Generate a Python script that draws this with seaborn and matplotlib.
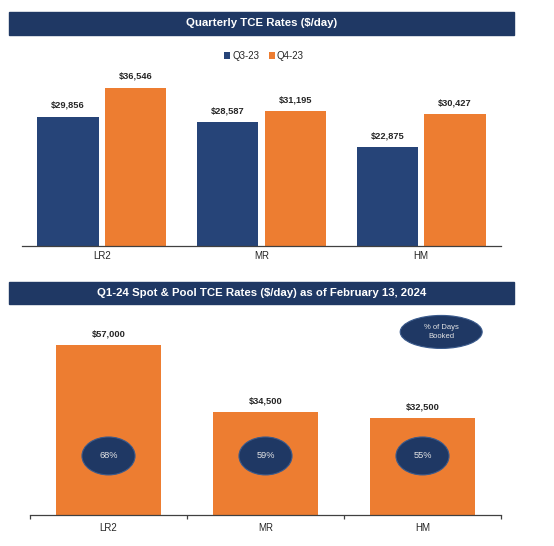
import pandas as pd
import numpy as np
import matplotlib.pyplot as plt
import seaborn as sns
from matplotlib.patches import Rectangle, Ellipse
from matplotlib.transforms import blended_transform_factory

# Données
vessels = ['LR2', 'MR', 'HM']
quarters = ['Q3-23', 'Q4-23']
q3_23 = [29856, 28587, 22875]
q4_23 = [36546, 31195, 30427]
q1_24 = [57000, 34500, 32500]
days_booked = ['68%', '59%', '55%']

navy = '#264478'
header = '#1F3864'
orange = '#ED7D31'

df_q = pd.DataFrame({
    'Vessel': vessels * 2,
    'Quarter': [quarters[0]] * 3 + [quarters[1]] * 3,
    'TCE': q3_23 + q4_23,
})
df_s = pd.DataFrame({'Vessel': vessels, 'TCE': q1_24})

sns.set_style('white')
plt.rcParams['font.family'] = ['Liberation Sans', 'DejaVu Sans']

W, H = 554, 546
fig = plt.figure(figsize=(W / 100, H / 100), dpi=100)

def fx(px):
    return px / W

def fy(py):
    return 1 - py / H

# Bandeaux de titre
for y0, y1, title in [(12, 35, 'Quarterly TCE Rates ($/day)'),
                      (282, 304, 'Q1-24 Spot & Pool TCE Rates ($/day) as of February 13, 2024')]:
    fig.add_artist(Rectangle((fx(9), fy(y1)), fx(514) - fx(9), fy(y0) - fy(y1),
                             transform=fig.transFigure, color=header, zorder=0))
    fig.text(fx(261.5), (fy(y0) + fy(y1)) / 2, title, color='white', fontsize=8.2,
             fontweight='bold', ha='center', va='center')

# Gráfico superior
ax1 = fig.add_axes([fx(22), fy(245.7), fx(501) - fx(22), fy(70) - fy(245.7)])
sns.barplot(data=df_q, x='Vessel', y='TCE', hue='Quarter', palette=[navy, orange],
            width=0.845, gap=0.09, ax=ax1, saturation=1, linewidth=0, legend=True)
ax1.set_xlim(-0.5, 2.5)
ax1.set_ylim(0, 40700)
for cont in ax1.containers:
    ax1.bar_label(cont, labels=[f'${v:,.0f}' for v in cont.datavalues],
                  padding=5, fontsize=6.7, fontweight='bold')
ax1.legend(loc='center', bbox_to_anchor=(fx(264), fy(56)), bbox_transform=fig.transFigure,
           ncol=2, frameon=False, fontsize=7, handlelength=0.6, handleheight=0.6,
           handletextpad=0.2, columnspacing=1.0)
ax1.set_xlabel('')
ax1.set_ylabel('')
ax1.set_yticks([])
ax1.tick_params(axis='x', length=0, labelsize=7, pad=4)
for s in ['top', 'right', 'left']:
    ax1.spines[s].set_visible(False)
ax1.spines['bottom'].set_color('#404040')
ax1.spines['bottom'].set_linewidth(0.9)

# Gráfico inferior
ax2 = fig.add_axes([fx(30), fy(515), fx(501) - fx(30), fy(310) - fy(515)])
sns.barplot(data=df_s, x='Vessel', y='TCE', color=orange, width=0.67, saturation=1,
            linewidth=0, ax=ax2)
ax2.set_xlim(-0.5, 2.5)
ax2.set_ylim(0, 68750)
ax2.bar_label(ax2.containers[0], labels=[f'${v:,.0f}' for v in ax2.containers[0].datavalues],
              padding=5, fontsize=6.7, fontweight='bold')
ax2.set_xlabel('')
ax2.set_ylabel('')
ax2.set_yticks([])
ax2.set_xticks(np.arange(len(vessels) + 1) - 0.5, minor=True)
ax2.tick_params(axis='x', which='major', length=0, labelsize=7, pad=6)
ax2.tick_params(axis='x', which='minor', bottom=True, length=3, width=0.9,
                color='#404040', direction='out')
for s in ['top', 'right', 'left']:
    ax2.spines[s].set_visible(False)
ax2.spines['bottom'].set_color('#404040')
ax2.spines['bottom'].set_linewidth(0.9)

# Ellipses % de dias reservados
trans = blended_transform_factory(ax2.transData, ax2.transAxes)
for i, pct in enumerate(days_booked):
    ax2.add_patch(Ellipse((i, 0.288), 0.338, 0.185, transform=trans,
                          facecolor=header, edgecolor='#3A5A8C', lw=0.8, zorder=5))
    ax2.text(i, 0.288, pct, transform=trans, ha='center', va='center',
             color='#E4E4E4', fontsize=6.7, zorder=6)

ax2.add_patch(Ellipse((0.873, 0.893), 0.174, 0.161, transform=ax2.transAxes,
                      facecolor=header, edgecolor='#3A5A8C', lw=0.8, zorder=5, clip_on=False))
ax2.text(0.873, 0.893, '% of Days\nBooked', transform=ax2.transAxes, ha='center',
         va='center', color='#E4E4E4', fontsize=5.5, zorder=6, linespacing=1.3)

plt.savefig('out.png', dpi=100)
